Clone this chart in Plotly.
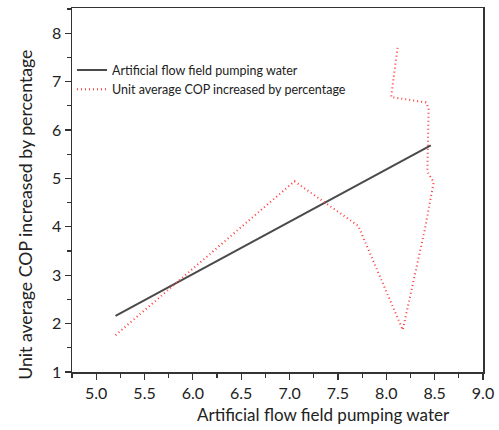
import plotly.graph_objects as go

# Data
line_x = [5.2, 8.46]
line_y = [2.16, 5.68]

cop_x = [5.2, 7.05, 7.71, 8.17, 8.40, 8.49, 8.425, 8.438, 8.41, 8.05, 8.12]
cop_y = [1.76, 4.94, 4.02, 1.87, 3.96, 4.92, 5.14, 6.45, 6.57, 6.68, 7.75]

series_names = ["Artificial flow field pumping water",
                "Unit average COP increased by percentage"]
x_title = "Artificial flow field pumping water"
y_title = "Unit average COP increased by percentage"
x_ticks = [5.0, 5.5, 6.0, 6.5, 7.0, 7.5, 8.0, 8.5, 9.0]
y_ticks = [1, 2, 3, 4, 5, 6, 7, 8]

FONT = "Lato"

fig = go.Figure()
fig.add_trace(go.Scatter(x=line_x, y=line_y, mode="lines", name=series_names[0],
                         line=dict(color="#4a4a4a", width=2)))
fig.add_trace(go.Scatter(x=cop_x, y=cop_y, mode="lines", name=series_names[1],
                         line=dict(color="#ff3b3b", width=2, dash="1px,3px")))

axis_common = dict(showgrid=False, zeroline=False, showline=True, mirror=True,
                   linecolor="#333333", linewidth=1.5, ticks="outside",
                   ticklen=6, tickwidth=1.2, tickcolor="#333333",
                   ticklabeloverflow="allow", showspikes=False,
                   tickfont=dict(family=FONT, size=16, color="#222"))

fig.update_layout(
    width=499, height=430,
    margin=dict(l=72, r=16, t=8, b=58, autoexpand=False),
    paper_bgcolor="white", plot_bgcolor="white",
    font=dict(family=FONT, color="#222"),
    hovermode=False,
    showlegend=True,
    legend=dict(x=0.0, y=0.87, xanchor="left", yanchor="top",
                bgcolor="rgba(0,0,0,0)", font=dict(family=FONT, size=12.5, color="#222"),
                tracegroupgap=0, itemwidth=30),
    xaxis=dict(range=[4.75, 9.0], tickvals=x_ticks,
               ticktext=[f"{v:.1f}" for v in x_ticks],
               minor=dict(dtick=0.25, ticks="outside", ticklen=4, tickcolor="#333333"),
               **axis_common),
    yaxis=dict(range=[1, 8.52], tickvals=y_ticks,
               minor=dict(dtick=0.5, ticks="outside", ticklen=4, tickcolor="#333333"),
               **axis_common),
    annotations=[
        dict(text=x_title, xref="paper", yref="paper", x=0.611, y=-0.118,
             xanchor="center", yanchor="middle", showarrow=False,
             font=dict(family=FONT, size=17, color="#222")),
        dict(text=y_title, xref="paper", yref="paper", x=-0.115, y=0.431,
             xanchor="center", yanchor="middle", showarrow=False, textangle=-90,
             font=dict(family=FONT, size=17.7, color="#222")),
    ],
)

fig.write_html("out.html", config={"displayModeBar": False, "staticPlot": True},
               post_script="document.body.style.margin='0px';")
